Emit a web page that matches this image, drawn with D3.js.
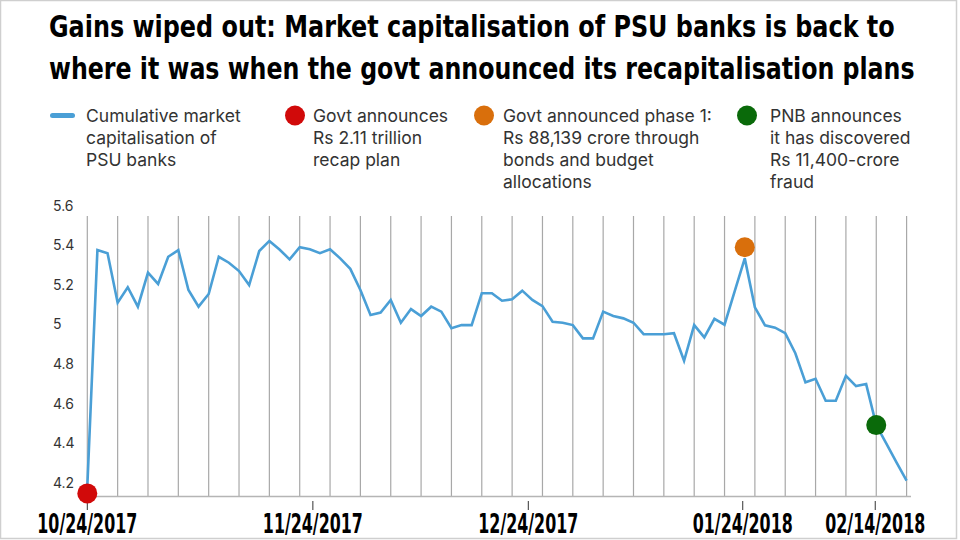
<!DOCTYPE html>
<html><head><meta charset="utf-8">
<script src="https://cdn.jsdelivr.net/npm/d3@7"></script>
<style>
html,body{margin:0;padding:0;background:#fff;}
svg{display:block;}
</style></head>
<body>
<svg id="chart" width="960" height="540"></svg>
<script>
// ---- data ----
const titleLines = [
  "Gains wiped out: Market capitalisation of PSU banks is back to",
  "where it was when the govt announced its recapitalisation plans"
];
const marketCap = [
  4.18, 5.375, 5.359, 5.109, 5.187, 5.089, 5.261, 5.204, 5.341, 5.375,
  5.173, 5.089, 5.153, 5.341, 5.311, 5.269, 5.198, 5.370, 5.421, 5.378,
  5.328, 5.389, 5.379, 5.359, 5.379, 5.333, 5.280, 5.173, 5.047, 5.059,
  5.123, 5.008, 5.077, 5.042, 5.089, 5.064, 4.980, 4.996, 4.996, 5.157,
  5.157, 5.119, 5.126, 5.170, 5.123, 5.092, 5.013, 5.008, 4.996, 4.929,
  4.929, 5.064, 5.042, 5.030, 5.008, 4.950, 4.950, 4.950, 4.955, 4.816,
  4.996, 4.934, 5.028, 4.998, 5.166, 5.333, 5.086, 4.995, 4.983, 4.955,
  4.854, 4.707, 4.725, 4.614, 4.614, 4.740, 4.688, 4.698, 4.491, 4.397,
  4.303, 4.210
];
const yTicks = [4.2, 4.4, 4.6, 4.8, 5, 5.2, 5.4, 5.6];
const xTickLabels = ["10/24/2017", "11/24/2017", "12/24/2017", "01/24/2018", "02/14/2018"];
const xTickIndex = [0, 22.3, 43.6, 64.8, 77.9];
const markerIndex = [0, 65, 78];
const markerValue = [4.146, 5.389, 4.491];
const markerColors = ["#d10a0a", "#d96f0c", "#0a6a0a"];
const lineColor = "#4a9fd6";
const legendLabels = [
  ["Cumulative market", "capitalisation of", "PSU banks"],
  ["Govt announces", "Rs 2.11 trillion", "recap plan"],
  ["Govt announced phase 1:", "Rs 88,139 crore through", "bonds and budget", "allocations"],
  ["PNB announces", "it has discovered", "Rs 11,400-crore", "fraud"]
];

// ---- drawing ----
const svg = d3.select("#chart");
const condensed = "'Liberation Sans Narrow','DejaVu Sans Condensed','Arial Narrow',sans-serif";
const sans = "Inter,'Noto Sans',Roboto,sans-serif";

// helper: place text and squeeze it horizontally to a target width
function fitText(sel, targetW, anchor) {
  sel.each(function () {
    const t = d3.select(this);
    const px = +t.attr("data-x"), py = +t.attr("data-y");
    const w = this.getComputedTextLength();
    const s = Math.min(1, targetW / w);
    t.attr("x", 0).attr("y", 0)
     .attr("transform", `translate(${px},${py}) scale(${s},1)`);
  });
}

// frame
svg.append("rect").attr("x", 0.5).attr("y", 0.5).attr("width", 956).attr("height", 538)
  .attr("fill", "none").attr("stroke", "#cfcfcf").attr("stroke-width", 1.5);

// title
const titleLen = [846, 866];
svg.selectAll("text.title").data(titleLines).join("text")
  .attr("class", "title")
  .attr("data-x", 49).attr("data-y", (d, i) => 37 + i * 42)
  .attr("font-family", condensed).attr("font-weight", "bold").attr("font-size", 30.5)
  .attr("fill", "#000")
  .text(d => d)
  .each(function (d, i) { fitText(d3.select(this), titleLen[i]); });

// legend
const legendX = [50, 285, 474, 737];
const legendTextX = [86, 313, 503, 770];
const lg = svg.append("g");
legendLabels.forEach((lines, k) => {
  if (k === 0) {
    lg.append("line").attr("x1", legendX[0] + 2.5).attr("x2", legendX[0] + 22.5)
      .attr("y1", 115.5).attr("y2", 115.5)
      .attr("stroke", lineColor).attr("stroke-width", 5).attr("stroke-linecap", "round");
  } else {
    lg.append("circle").attr("cx", legendX[k] + 10).attr("cy", 115.5).attr("r", 10)
      .attr("fill", markerColors[k - 1]);
  }
  lg.selectAll(null).data(lines).join("text")
    .attr("x", legendTextX[k]).attr("y", (d, i) => 121.5 + i * 22.3)
    .attr("font-family", sans).attr("font-size", 17.5).attr("fill", "#333")
    .text(d => d);
});

// scales
const x = d3.scaleLinear().domain([0, marketCap.length - 1]).range([87.3, 906.6]);
const y = d3.scaleLinear().domain([4.2, 5.6]).range([482.7, 205.5]);

// gridlines (every 3 points)
const gridIdx = d3.range(0, marketCap.length, 3);
svg.append("g").selectAll("line").data(gridIdx).join("line")
  .attr("x1", d => x(d)).attr("x2", d => x(d))
  .attr("y1", 216).attr("y2", 496)
  .attr("stroke", "#a8a8a8").attr("stroke-width", 1.2);

// x axis baseline
svg.append("line").attr("x1", 87).attr("x2", 911).attr("y1", 496.5).attr("y2", 496.5)
  .attr("stroke", "#b5b5b5").attr("stroke-width", 1.5);

// y tick labels
svg.append("g").selectAll("text").data(yTicks).join("text")
  .attr("x", 53).attr("y", d => y(d) + 5)
  .attr("font-family", sans).attr("font-size", 14).attr("fill", "#333")
  .text(d => d3.format("")(d));

// x ticks + labels
const xt = svg.append("g");
xt.selectAll("line").data(xTickIndex).join("line")
  .attr("x1", d => x(d)).attr("x2", d => x(d)).attr("y1", 501).attr("y2", 510)
  .attr("stroke", "#333").attr("stroke-width", 1);
xt.selectAll("text").data(xTickLabels).join("text")
  .attr("data-x", (d, i) => x(xTickIndex[i])).attr("data-y", 533)
  .attr("text-anchor", "middle")
  .attr("font-family", condensed).attr("font-weight", "bold").attr("font-size", 26)
  .attr("fill", "#000")
  .text(d => d)
  .each(function () { fitText(d3.select(this), 100); });

// line
const line = d3.line().x((d, i) => x(i)).y(d => y(d));
svg.append("path").datum(marketCap).attr("d", line)
  .attr("fill", "none").attr("stroke", lineColor).attr("stroke-width", 2.6)
  .attr("stroke-linejoin", "miter");

// event markers
svg.append("g").selectAll("circle").data(markerIndex).join("circle")
  .attr("cx", d => x(d)).attr("cy", (d, i) => y(markerValue[i])).attr("r", 10)
  .attr("fill", (d, i) => markerColors[i]);
</script>
</body></html>
